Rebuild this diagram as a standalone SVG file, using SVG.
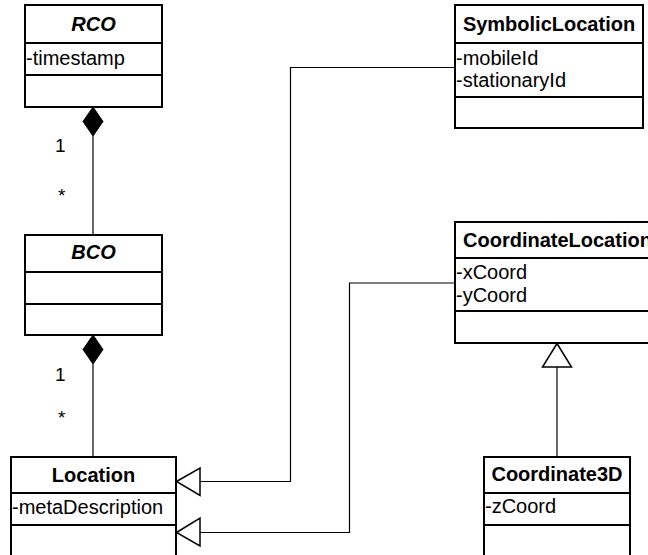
<svg xmlns="http://www.w3.org/2000/svg" width="648" height="555" viewBox="0 0 648 555">
  <style>
    .box { fill: #fff; stroke: #000; stroke-width: 2; }
    .sep { stroke: #000; stroke-width: 2; }
    .title { font-family: "Liberation Sans", Arial, sans-serif; font-size: 20px; font-weight: bold; text-anchor: middle; fill: #000; }
    .abstract { font-style: italic; }
    .attr { font-family: "Liberation Sans", Arial, sans-serif; font-size: 20px; fill: #000; }
    .mult { font-family: "Liberation Sans", Arial, sans-serif; font-size: 19px; fill: #000; }
    .line { fill: none; stroke: #000; stroke-width: 1.2; }
    .diamond { fill: #000; stroke: #000; stroke-width: 1; }
    .tri { fill: #fff; stroke: #000; stroke-width: 1.5; }
  </style>

  <!-- connectors -->
  <g id="connectors">
    <!-- RCO composes BCO -->
    <line class="line" x1="93" y1="136" x2="93" y2="235"/>
    <polygon class="diamond" points="93,107 103,121.5 93,136 83,121.5"/>
    <text class="mult" x="55" y="152">1</text>
    <text class="mult" x="58" y="202">*</text>

    <!-- BCO composes Location -->
    <line class="line" x1="93" y1="364" x2="93" y2="457"/>
    <polygon class="diamond" points="93,335 103,349.5 93,364 83,349.5"/>
    <text class="mult" x="55" y="381">1</text>
    <text class="mult" x="58" y="424">*</text>

    <!-- SymbolicLocation generalises to Location -->
    <polyline class="line" points="455,67.5 290.5,67.5 290.5,481.5 200,481.5"/>
    <polygon class="tri" points="176.5,481.5 200,468 200,495.5"/>

    <!-- CoordinateLocation generalises to Location -->
    <polyline class="line" points="455,283 349.5,283 349.5,532.5 200,532.5"/>
    <polygon class="tri" points="176.5,532.5 200,518 200,546"/>

    <!-- Coordinate3D generalises to CoordinateLocation -->
    <line class="line" x1="557" y1="367" x2="557" y2="457"/>
    <polygon class="tri" points="557,343.5 571.5,367 542.5,367"/>
  </g>

  <!-- RCO -->
  <g id="RCO">
    <rect class="box" x="25" y="5" width="137" height="102"/>
    <line class="sep" x1="25" y1="43" x2="162" y2="43"/>
    <line class="sep" x1="25" y1="75" x2="162" y2="75"/>
    <text class="title abstract" x="93.5" y="31">RCO</text>
    <text class="attr" x="26" y="65">-timestamp</text>
  </g>

  <!-- BCO -->
  <g id="BCO">
    <rect class="box" x="25" y="235" width="137" height="100"/>
    <line class="sep" x1="25" y1="272" x2="162" y2="272"/>
    <line class="sep" x1="25" y1="304" x2="162" y2="304"/>
    <text class="title abstract" x="93.5" y="259">BCO</text>
  </g>

  <!-- Location -->
  <g id="Location">
    <rect class="box" x="11" y="457" width="165" height="110"/>
    <line class="sep" x1="11" y1="493" x2="176" y2="493"/>
    <line class="sep" x1="11" y1="525" x2="176" y2="525"/>
    <text class="title" x="93.5" y="482">Location</text>
    <text class="attr" x="12" y="514">-metaDescription</text>
  </g>

  <!-- SymbolicLocation -->
  <g id="SymbolicLocation">
    <rect class="box" x="455" y="5" width="188" height="123"/>
    <line class="sep" x1="455" y1="43" x2="643" y2="43"/>
    <line class="sep" x1="455" y1="97" x2="643" y2="97"/>
    <text class="title" x="549" y="31">SymbolicLocation</text>
    <text class="attr" x="456" y="65">-mobileId</text>
    <text class="attr" x="456" y="87">-stationaryId</text>
  </g>

  <!-- CoordinateLocation (box runs past the right edge of the canvas) -->
  <g id="CoordinateLocation">
    <rect class="box" x="455" y="222" width="210" height="121"/>
    <line class="sep" x1="455" y1="258" x2="665" y2="258"/>
    <line class="sep" x1="455" y1="311" x2="665" y2="311"/>
    <text class="title" x="463" y="247" style="text-anchor:start">CoordinateLocation</text>
    <text class="attr" x="456" y="279">-xCoord</text>
    <text class="attr" x="456" y="302">-yCoord</text>
  </g>

  <!-- Coordinate3D -->
  <g id="Coordinate3D">
    <rect class="box" x="484" y="457" width="146" height="110"/>
    <line class="sep" x1="484" y1="493" x2="630" y2="493"/>
    <line class="sep" x1="484" y1="525" x2="630" y2="525"/>
    <text class="title" x="557" y="481">Coordinate3D</text>
    <text class="attr" x="485" y="513">-zCoord</text>
  </g>
</svg>
